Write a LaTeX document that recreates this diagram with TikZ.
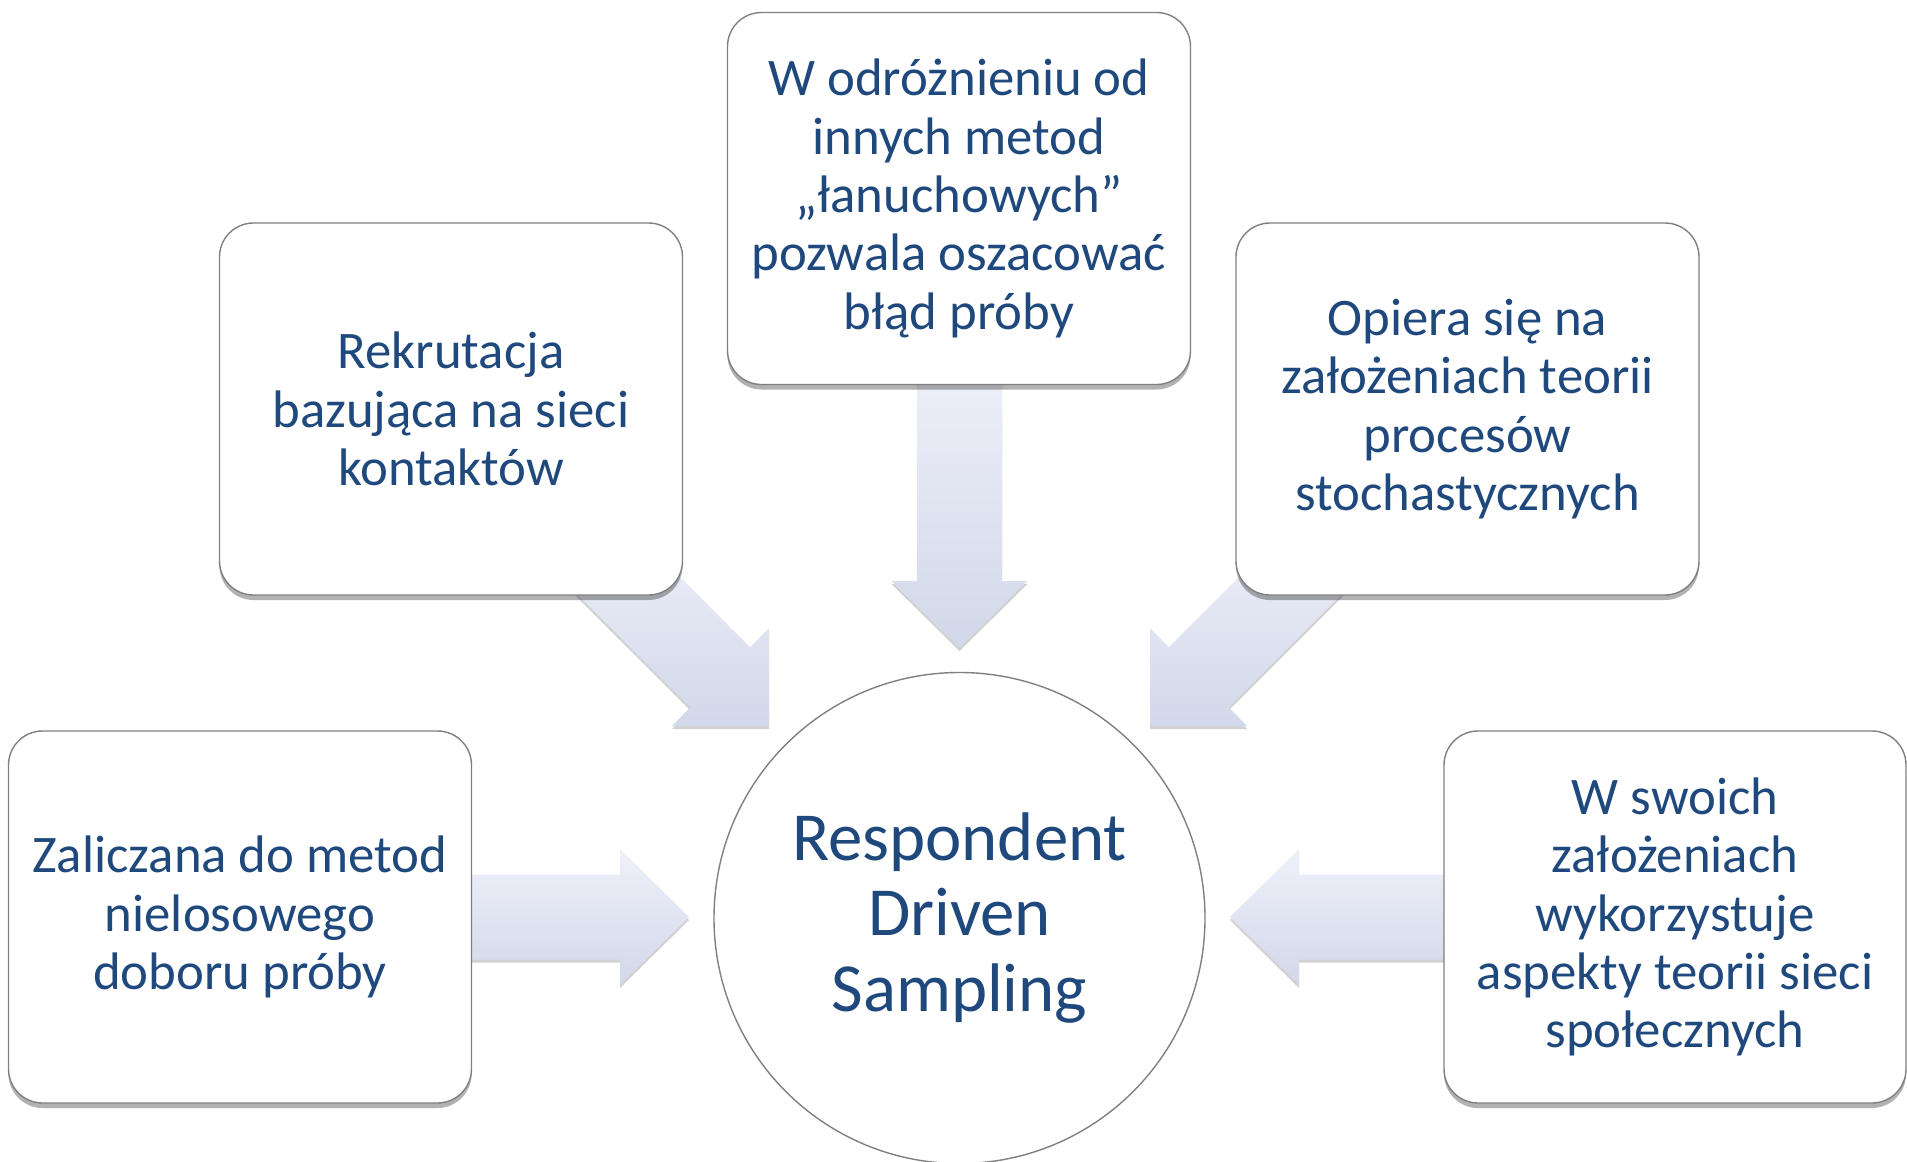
\documentclass[tikz,border=0pt]{standalone}
\usepackage{fontspec}
\setmainfont{Carlito}
\usetikzlibrary{shadows}
\definecolor{txt}{HTML}{1F497D}
\definecolor{arrT}{HTML}{EFF1F9}
\definecolor{arrB}{HTML}{D2D8EA}
\definecolor{brd}{HTML}{808080}
\tikzset{
 infobox/.style={draw=brd, line width=0.7pt, fill=white, rounded corners=17pt,
   minimum width=231.5pt, minimum height=186pt, align=center, text=txt,
   font=\fontsize{26.4}{29.2}\selectfont, inner sep=0pt,
   drop shadow={shadow xshift=0pt, shadow yshift=-2.5pt, opacity=0.3, fill=black}},
 centre/.style={circle, draw=brd, line width=0.7pt, fill=white, minimum size=245.5pt,
   align=center, text=txt, font=\fontsize{34.4}{37.7}\selectfont, inner sep=0pt},
 blockarrow/.style={top color=arrT, bottom color=arrB, draw=none,
   drop shadow={shadow xshift=0pt, shadow yshift=-1.5pt, opacity=0.18, fill=black}},
}
\begin{document}
\begin{tikzpicture}[x=0.5pt,y=-0.5pt]
\useasboundingbox (0,0) rectangle (1907,1162);
% block arrows (drawn beneath the boxes)
\path[blockarrow] (440,874.5) -- (620,874.5) -- (620,849) -- (689,917) -- (620,985) -- (620,959.5) -- (440,959.5) -- cycle;
\path[blockarrow] (1479,874.5) -- (1299,874.5) -- (1299,849) -- (1230,917) -- (1299,985) -- (1299,959.5) -- (1479,959.5) -- cycle;
\path[blockarrow] (917,350) -- (1002,350) -- (1002,581) -- (1027.5,581) -- (959.5,648) -- (891.5,581) -- (917,581) -- cycle;
\path[blockarrow] (620,517) -- (750.2,647.2) -- (769,628) -- (769,726) -- (672,726) -- (690.2,707.3) -- (560,577) -- cycle;
\path[blockarrow] (1299,517) -- (1168.8,647.2) -- (1150,628) -- (1150,726) -- (1247,726) -- (1228.8,707.3) -- (1359,577) -- cycle;
% boxes
\node[infobox] (a) at (240,917) {Zaliczana do metod\\nielosowego\\doboru próby};
\node[infobox] (b) at (451,409) {Rekrutacja\\bazująca na sieci\\kontaktów};
\node[infobox] (c) at (959,198.5) {W odróżnieniu od\\innych metod\\„łanuchowych”\\pozwala oszacować\\błąd próby};
\node[infobox] (d) at (1467.5,409) {Opiera się na\\założeniach teorii\\procesów\\stochastycznych};
\node[infobox, minimum width=231pt] (e) at (1675,917) {W swoich\\założeniach\\wykorzystuje\\aspekty teorii sieci\\społecznych};
\node[centre] (rds) at (959.5,918) {Respondent\\Driven\\Sampling};
\end{tikzpicture}
\end{document}
